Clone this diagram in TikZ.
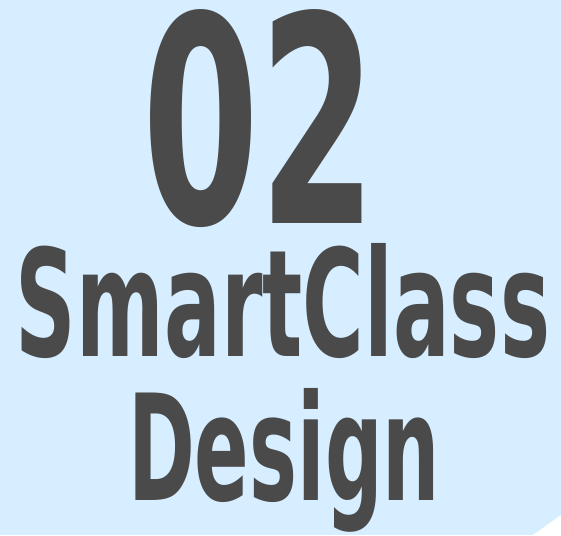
\documentclass[tikz,border=0pt]{standalone}
\usepackage{fontspec}
\usepackage{graphicx}
\newfontfamily\titlefont{DejaVu Sans Condensed Bold}
\definecolor{bgblue}{RGB}{214,238,255}
\definecolor{ink}{RGB}{74,74,74}
\tikzset{
  title/.style={anchor=base west, inner sep=0pt, outer sep=0pt, text=ink, font=\titlefont}
}
\begin{document}
\begin{tikzpicture}[x=1pt,y=1pt]
\useasboundingbox (0,0) rectangle (561,535);
\fill[bgblue] (0,0) rectangle (561,535);
\fill[white] (533,0) -- (561,20) -- (561,0) -- cycle;
\node[title] (num) at (142,311) {\resizebox{234pt}{214pt}{02}};
\node[title] (smart) at (16,178) {\resizebox{534pt}{113pt}{SmartClass}};
\node[title] (design) at (128,34) {\resizebox{312pt}{112pt}{Design}};
\end{tikzpicture}
\end{document}
